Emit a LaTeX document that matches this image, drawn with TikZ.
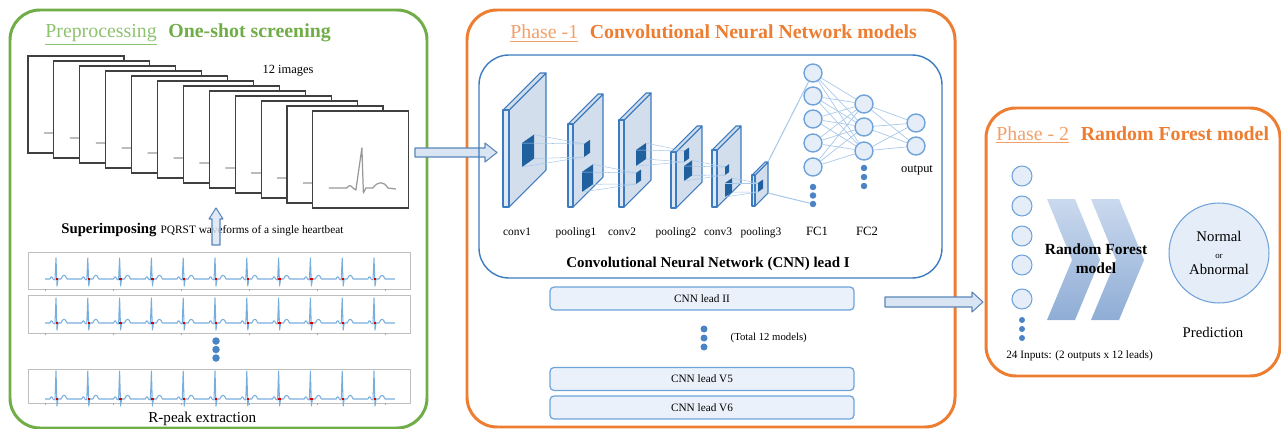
\documentclass[tikz,border=0pt]{standalone}
\usepackage{fontspec}
\setmainfont{Liberation Serif}
\usepackage{tikz}
\usetikzlibrary{positioning}

\definecolor{prepgreen}{HTML}{70AD47}
\definecolor{prepgreenlt}{HTML}{8DC26F}
\definecolor{phaseorange}{HTML}{ED7D31}
\definecolor{phaseorangelt}{HTML}{F2A06A}
\definecolor{netblue}{HTML}{3C7BBF}
\definecolor{cellblue}{HTML}{6FA3DA}
\definecolor{cellfill}{HTML}{E4EDF8}
\definecolor{boxfill}{HTML}{EAF1FA}
\definecolor{slabface}{HTML}{D2DEEC}
\definecolor{slabedge}{HTML}{DFE9F5}
\definecolor{kerneldark}{HTML}{20609F}
\definecolor{meshblue}{HTML}{A9C9EA}
\definecolor{ecgblue}{HTML}{78AEDE}
\definecolor{dotblue}{HTML}{4A84C4}
\definecolor{arrowfill}{HTML}{DAE5F3}
\definecolor{arrowline}{HTML}{5A86B8}
\definecolor{chevtop}{HTML}{CAD9EE}
\definecolor{chevbot}{HTML}{8FADD5}

% one feature-map slab: x, y, height, depth, thickness
\newcommand{\cnnslab}[5]{%
  \filldraw[slab, fill=slabface] (#1+#5,#2) -- ++(#4,-#4) -- ++(0,#3) -- ++(-#4,#4) -- cycle;
  \filldraw[slab, fill=slabface] (#1,#2) -- ++(#4,-#4) -- ++(#5,0) -- ++(-#4,#4) -- cycle;
  \filldraw[slab, fill=slabedge] (#1,#2) rectangle ++(#5,#3);
}
% kernel patch on a slab face: name, x, y, width, height
\newcommand{\cnnkernel}[5]{%
  \coordinate (#1-nw) at (#2,#3);
  \coordinate (#1-ne) at (#2+#4,#3-0.7*#4);
  \coordinate (#1-se) at (#2+#4,#3-0.7*#4+#5);
  \coordinate (#1-sw) at (#2,#3+#5);
  \fill[kerneldark] (#1-nw) -- (#1-ne) -- (#1-se) -- (#1-sw) -- cycle;
}

\begin{document}
\begin{tikzpicture}[x=0.02cm, y=-0.02cm,
    panel/.style={line width=1.7pt, rounded corners=0.6cm},
    slab/.style={draw=netblue, line width=0.6pt, line join=round},
    mesh/.style={meshblue, line width=0.4pt},
    neuron/.style={circle, draw=cellblue, fill=cellfill, line width=0.8pt,
                   minimum size=0.36cm, inner sep=0},
    incell/.style={neuron, minimum size=0.4cm, line width=0.6pt},
    dot/.style={circle, fill=dotblue, inner sep=0, minimum size=0.13cm},
    leadbox/.style={draw=cellblue, fill=boxfill, line width=0.7pt, rounded corners=0.08cm,
                    minimum width=6.08cm, minimum height=0.46cm, inner sep=0,
                    font=\fontsize{6.4}{7.5}\selectfont},
    blockarrow/.style={fill=arrowfill, draw=arrowline, line width=0.6pt, line join=round},
    ttl/.style={inner sep=0, font=\fontsize{11.3}{13}\selectfont},
    lab/.style={inner sep=0, font=\fontsize{6.5}{8}\selectfont}
]
\useasboundingbox (0,0) rectangle (1281,429);

% three stage panels
\draw[panel, prepgreen]   (10,10)   rectangle (427,428);
\draw[panel, phaseorange] (467,10)  rectangle (955,427);
\draw[panel, phaseorange] (986,108) rectangle (1280,376);

%% ---------- preprocessing ----------
\node[ttl, prepgreenlt, anchor=base west] (preA) at (45,38) {\underline{Preprocessing}};
\node[ttl, prepgreen, font=\fontsize{11.3}{13}\selectfont\bfseries, base right=0.22cm of preA] (preB) {One-shot screening};

% stacked beat images
\foreach \i in {0,...,11} {
  \pgfmathsetmacro\ix{28+25.9*\i}
  \pgfmathsetmacro\iy{56+5*\i}
  \begin{scope}[shift={(\ix,\iy)}]
    \draw[fill=white, draw=black!75, line width=0.6pt] (0,0) rectangle (96,97);
    \draw[black!40, line width=0.7pt, line join=round]
      (16,77) -- (34,77) .. controls (36,74) and (38,74) .. (40,77) -- (43,79)
      -- (49,37) -- (50.5,82) -- (53,77) -- (60,77)
      .. controls (65,70) and (71,70) .. (75,77) -- (83,78);
  \end{scope}
}
\node[inner sep=0, anchor=base, font=\fontsize{7.1}{8}\selectfont] (nimg) at (288,74) {12 images};

\node[inner sep=0, anchor=base west, font=\fontsize{8.4}{10}\selectfont\bfseries] (supA) at (61,233) {Superimposing};
\node[inner sep=0, base right=0.07cm of supA, font=\fontsize{6.45}{8}\selectfont] (supB) {PQRST waveforms of a single heartbeat};

% up arrow
\draw[blockarrow, fill opacity=0.85] (216,208) -- (223,219) -- (220,219) -- (220,245)
  -- (212,245) -- (212,219) -- (209,219) -- cycle;

% R-peak strips
\foreach \top/\bot/\base/\amp in {252/289/279/21, 295/333/323/25, 369/403/399/28} {
  \draw[black!25, line width=0.4pt] (28,\top) rectangle (410,\bot);
  \foreach \t in {45,113,181,249,317,385}
    \draw[black!35, line width=0.3pt] (\t,\bot) -- ++(0,2);
  \foreach \k in {0,...,10} {
    \pgfmathsetmacro\r{56+31.8*\k}
    \draw[ecgblue, line width=0.6pt, line join=round]
      (\r-11,\base) -- (\r-6,\base) .. controls (\r-5,\base-3) and (\r-4,\base-3) .. (\r-3,\base)
      -- (\r-1,\base+1) -- (\r,\base-\amp) -- (\r+1,\base+7) -- (\r+2,\base) -- (\r+5,\base)
      .. controls (\r+7,\base-5) and (\r+9,\base-5) .. (\r+11,\base) -- (\r+20.8,\base);
    \fill[red!85!black] (\r-0.2,\base-1.3) rectangle ++(2.4,2.6);
  }
}
\foreach \j/\yy in {1/341,2/349.5,3/358}
  \node[dot, minimum size=0.15cm] (gdot\j) at (216,\yy) {};

\node[inner sep=0, anchor=base west, font=\fontsize{8.6}{10}\selectfont] (rpeak) at (148,422) {R-peak extraction};

% into phase 1
\draw[blockarrow] (415,148) -- (485,148) -- (485,143) -- (497,152.5) -- (485,162)
  -- (485,157) -- (415,157) -- cycle;

%% ---------- phase 1 ----------
\node[ttl, phaseorangelt, anchor=base west] (phA) at (510,39) {\underline{Phase -1}};
\node[ttl, phaseorange, font=\fontsize{11.3}{13}\selectfont\bfseries, base right=0.22cm of phA] (phB) {Convolutional Neural Network models};

\draw[netblue, line width=0.8pt, rounded corners=0.6cm] (479,55) rectangle (942,278);

% feature maps
\cnnslab{503}{110}{97}{37}{6}
\cnnslab{568}{124}{83}{30}{5}
\cnnslab{619}{120}{87}{27}{5}
\cnnslab{671}{152}{56}{26}{5}
\cnnslab{712}{150}{57}{24}{5}
\cnnslab{752}{175}{31}{13}{3}

\cnnkernel{k1}{522}{143}{12}{24}
\cnnkernel{k2a}{584}{144}{6}{13}
\cnnkernel{k2b}{582}{172}{11}{20}
\cnnkernel{k3a}{636}{150}{10}{16}
\cnnkernel{k3b}{636}{173}{5}{11}
\cnnkernel{k4a}{684}{151}{5}{11}
\cnnkernel{k4b}{684}{166}{8}{15}
\cnnkernel{k5a}{725}{167}{4}{8}
\cnnkernel{k5b}{725}{183}{7}{14}
\cnnkernel{k6}{758}{183}{5}{9}

\foreach \a/\b in {k1/k2a, k2b/k3b, k3a/k4a, k4b/k5a, k5b/k6}
  \foreach \p/\q in {ne/nw, se/sw, nw/nw, sw/sw}
    \draw[mesh, line width=0.3pt] (\a-\p) -- (\b-\q);

% fully connected part
\foreach \j/\yy in {1/73,2/96,3/119,4/143,5/167}
  \node[neuron] (fa\j) at (813,\yy) {};
\foreach \j/\yy in {1/104,2/127,3/151}
  \node[neuron] (fb\j) at (864,\yy) {};
\foreach \j/\yy in {1/123,2/146}
  \node[neuron] (fo\j) at (916,\yy) {};
\foreach \j/\yy in {1/187,2/195.5,3/204}
  \node[dot] (fad\j) at (813,\yy) {};
\foreach \j/\yy in {1/168,2/177,3/186}
  \node[dot] (fbd\j) at (864,\yy) {};

\foreach \i in {1,...,5}
  \foreach \j in {1,2,3}
    \draw[mesh] (fa\i) -- (fb\j);
\foreach \i in {1,2,3}
  \foreach \j in {1,2}
    \draw[mesh] (fb\i) -- (fo\j);

\coordinate (p3top) at (768,162);
\coordinate (p3bot) at (768,193);
\draw[mesh, line width=0.6pt] (p3top) -- (fa1);
\draw[mesh, line width=0.6pt] (p3bot) -- (fad3);

\foreach \name/\xx in {conv1/517, pooling1/576, conv2/622, pooling2/676, conv3/718, pooling3/761}
  \node[lab, anchor=base] (l-\name) at (\xx,235) {\name};
\node[lab, anchor=base, font=\fontsize{7.2}{8}\selectfont] (l-fc1) at (817,235) {FC1};
\node[lab, anchor=base, font=\fontsize{7.2}{8}\selectfont] (l-fc2) at (867,235) {FC2};
\node[lab, anchor=base, font=\fontsize{7.1}{8}\selectfont] (l-out) at (917,173) {output};

\node[inner sep=0, anchor=base, font=\fontsize{8.5}{10}\selectfont\bfseries] (cnnI) at (708,267)
  {Convolutional Neural Network (CNN) lead I};

% the other leads
\node[leadbox] (lead2) at (702,298.5) {CNN lead II};
\foreach \j/\yy in {1/329,2/338,3/347}
  \node[dot, minimum size=0.14cm] (cdot\j) at (704,\yy) {};
\node[inner sep=0, right=0.45cm of cdot2, font=\fontsize{6.1}{7}\selectfont] (total) {(Total 12 models)};
\node[leadbox] (lead5) at (702,379) {CNN lead V5};
\node[leadbox] (lead6) at (702,407.5) {CNN lead V6};

% into phase 2
\draw[blockarrow] (885,297) -- (972,297) -- (972,292) -- (983,302) -- (972,312)
  -- (972,307) -- (885,307) -- cycle;

%% ---------- phase 2 ----------
\node[ttl, phaseorangelt, anchor=base west] (rfA) at (996,140) {\underline{Phase - 2}};
\node[ttl, phaseorange, font=\fontsize{11.3}{13}\selectfont\bfseries, base right=0.22cm of rfA] (rfB) {Random Forest model};

\foreach \j/\yy in {1/176,2/206,3/236,4/265,5/299}
  \node[incell] (in\j) at (1022,\yy) {};
\foreach \j/\yy in {1/320,2/329,3/338}
  \node[dot, minimum size=0.12cm] (idot\j) at (1022,\yy) {};
\node[inner sep=0, anchor=base west, font=\fontsize{6.4}{7.5}\selectfont] (inputs) at (1006,358)
  {24 Inputs: (2 outputs x 12 leads)};

% chevrons
\shade[top color=chevtop, bottom color=chevbot] (1047,199) -- (1075,199) -- (1100,260)
  -- (1075,320) -- (1047,320) -- (1072,260) -- cycle;
\shade[top color=chevtop, bottom color=chevbot] (1091,199) -- (1119,199) -- (1144,260)
  -- (1119,320) -- (1091,320) -- (1116,260) -- cycle;
\node[inner sep=0, align=center, font=\fontsize{8.8}{10.8}\selectfont\bfseries] (rf) at (1096,259)
  {Random Forest\\model};

\node[circle, draw=cellblue, fill=cellfill, line width=0.6pt, minimum size=2cm, inner sep=0,
      align=center, font=\fontsize{8.4}{9.4}\selectfont] (pred) at (1219,253)
  {Normal\\{\fontsize{5}{6}\selectfont or}\\Abnormal};
\node[inner sep=0, anchor=base, font=\fontsize{8.4}{10}\selectfont] (predlab) at (1213,337) {Prediction};

\end{tikzpicture}
\end{document}
